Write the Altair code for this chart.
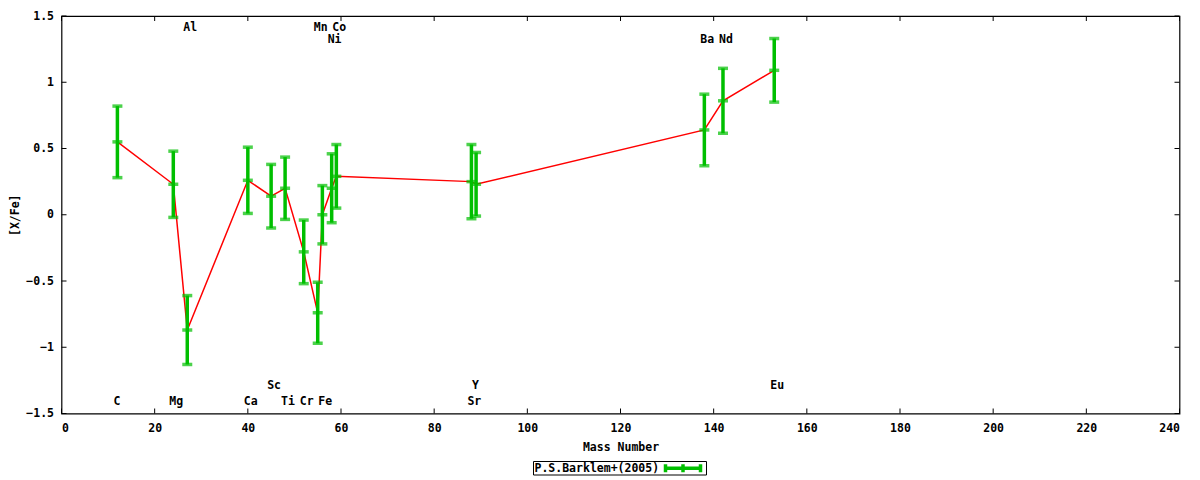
import altair as alt
import pandas as pd

# [X/Fe] abundance ratios vs mass number, P.S.Barklem+(2005)
elements = ["C", "Mg", "Al", "Ca", "Sc", "Ti", "Cr", "Mn", "Fe", "Ni", "Co", "Sr", "Y", "Ba", "Nd", "Eu"]
mass = [12, 24, 27, 40, 45, 48, 52, 55, 56, 58, 59, 88, 89, 138, 142, 153]
xfe = [0.55, 0.23, -0.87, 0.26, 0.14, 0.20, -0.28, -0.74, 0.00, 0.20, 0.29, 0.25, 0.23, 0.64, 0.86, 1.09]
err = [0.27, 0.25, 0.26, 0.25, 0.24, 0.235, 0.24, 0.23, 0.22, 0.26, 0.24, 0.28, 0.24, 0.27, 0.245, 0.24]
# where each element name is written (data units)
label_y = [-1.41, -1.41, 1.41, -1.41, -1.29, -1.41, -1.41, 1.41, -1.41, 1.32, 1.41, -1.41, -1.29, 1.32, 1.32, -1.29]

x_ticks = list(range(0, 241, 20))
y_ticks = [-1.5, -1.0, -0.5, 0.0, 0.5, 1.0, 1.5]
legend_label = "P.S.Barklem+(2005)"

W, H = 1118, 397.5
FONT = "DejaVu Sans Mono"
FS = 11.5
GREEN = "#00bf00"

df = pd.DataFrame({"el": elements, "mass": mass, "xfe": xfe, "err": err, "ly": label_y})
df["lo"] = df["xfe"] - df["err"]
df["hi"] = df["xfe"] + df["err"]

xs = alt.Scale(domain=[0, 240], nice=False, zero=False)
ys = alt.Scale(domain=[-1.5, 1.5], nice=False, zero=False)

base = alt.Chart(df)

line = base.mark_line(color="red", strokeWidth=1.5).encode(
    x=alt.X("mass:Q", scale=xs, title="Mass Number",
            axis=alt.Axis(values=x_ticks, format="d", grid=False, ticks=False, domain=False,
                          labelPadding=9, titleY=34, titleBaseline="middle")),
    y=alt.Y("xfe:Q", scale=ys, title="[X/Fe]",
            axis=alt.Axis(values=y_ticks, format="~g", grid=False, ticks=False, domain=False,
                          labelPadding=8, titleX=-46, titleY=H / 2, titleBaseline="middle")),
    order="mass:Q",
)

bars = base.mark_rule(color=GREEN, strokeWidth=3.5).encode(
    x=alt.X("mass:Q", scale=xs), y=alt.Y("lo:Q", scale=ys), y2="hi:Q"
)
caps = []
for f in ["lo", "hi", "xfe"]:
    caps.append(base.mark_tick(color=GREEN, orient="horizontal", size=10, thickness=3.5).encode(
        x=alt.X("mass:Q", scale=xs), y=alt.Y(f + ":Q", scale=ys)
    ))

labels = base.mark_text(align="left", dx=-4, baseline="middle", font=FONT,
                        fontWeight="bold", fontSize=FS, color="black").encode(
    x=alt.X("mass:Q", scale=xs), y=alt.Y("ly:Q", scale=ys), text="el:N"
)

# inward ticks on all four sides, like the gnuplot frame
xt = alt.Chart(pd.DataFrame({"v": x_ticks}))
yt = alt.Chart(pd.DataFrame({"v": y_ticks}))
tick_bot = xt.mark_rule(color="black").encode(x=alt.X("v:Q", scale=xs), y=alt.value(H), y2=alt.value(H - 5))
tick_top = xt.mark_rule(color="black").encode(x=alt.X("v:Q", scale=xs), y=alt.value(0), y2=alt.value(5))
tick_l = yt.mark_rule(color="black").encode(y=alt.Y("v:Q", scale=ys), x=alt.value(0), x2=alt.value(5))
tick_r = yt.mark_rule(color="black").encode(y=alt.Y("v:Q", scale=ys), x=alt.value(W), x2=alt.value(W - 5))

# boxed legend below the axis title
one = alt.Chart(pd.DataFrame({"t": [legend_label]}))
lx0, lx1, ly0, ly1 = 472, 645, 445.5, 459
leg_box = one.mark_rect(fill="white", stroke="black", strokeWidth=1).encode(
    x=alt.value(lx0), x2=alt.value(lx1), y=alt.value(ly0), y2=alt.value(ly1))
leg_text = one.mark_text(align="left", baseline="middle", font=FONT, fontWeight="bold",
                         fontSize=FS, color="black").encode(
    x=alt.value(lx0 + 1), y=alt.value((ly0 + ly1) / 2 + 0.5), text="t:N")
sx0, sx1, sy = 604, 639, (ly0 + ly1) / 2
leg_sym = [one.mark_rule(color=GREEN, strokeWidth=3.5).encode(
    x=alt.value(sx0), x2=alt.value(sx1), y=alt.value(sy))]
for cx in [sx0, (sx0 + sx1) / 2, sx1]:
    leg_sym.append(one.mark_rule(color=GREEN, strokeWidth=3.5).encode(
        x=alt.value(cx), y=alt.value(sy - 4), y2=alt.value(sy + 4)))

chart = alt.layer(
    line, bars, *caps, labels, tick_bot, tick_top, tick_l, tick_r, leg_box, leg_text, *leg_sym
).properties(
    width=W, height=H,
    autosize=alt.AutoSizeParams(type="none"),
    padding={"left": 53.5, "top": 8, "right": 12, "bottom": 64},
).configure_view(
    stroke="black", strokeWidth=1.2
).configure_axis(
    labelFont=FONT, labelFontSize=FS, labelFontWeight="bold", labelColor="black",
    titleFont=FONT, titleFontSize=FS, titleFontWeight="bold", titleColor="black",
)

chart.save("out.html", embed_options={"renderer": "svg", "actions": False})
